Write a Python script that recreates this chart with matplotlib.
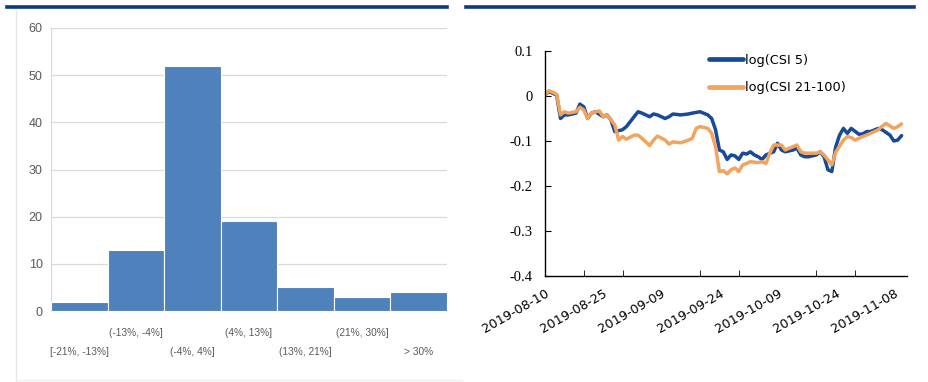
import matplotlib
matplotlib.use("Agg")
import matplotlib.pyplot as plt
from matplotlib.lines import Line2D
import numpy as np
import datetime as dt

# ---------------- data ----------------
hist_labels = ["[-21%, -13%]", "(-13%, -4%]", "(-4%, 4%]", "(4%, 13%]",
               "(13%, 21%]", "(21%, 30%]", "> 30%"]
hist_counts = [2, 13, 52, 19, 5, 3, 4]

csi5_dates = ["2019-08-10", "2019-08-11", "2019-08-13", "2019-08-14", "2019-08-15",
              "2019-08-16", "2019-08-18", "2019-08-19", "2019-08-20", "2019-08-21",
              "2019-08-22", "2019-08-23", "2019-08-25", "2019-08-26", "2019-08-27",
              "2019-08-28", "2019-08-30", "2019-08-31", "2019-09-02", "2019-09-03",
              "2019-09-04", "2019-09-06", "2019-09-07", "2019-09-08", "2019-09-10",
              "2019-09-11", "2019-09-12", "2019-09-14", "2019-09-16", "2019-09-17",
              "2019-09-19", "2019-09-21", "2019-09-22", "2019-09-23", "2019-09-24",
              "2019-09-25", "2019-09-26", "2019-09-27", "2019-09-28", "2019-09-29",
              "2019-09-30", "2019-10-01", "2019-10-02", "2019-10-03", "2019-10-04",
              "2019-10-05", "2019-10-06", "2019-10-08", "2019-10-09", "2019-10-10",
              "2019-10-11", "2019-10-13", "2019-10-14", "2019-10-15", "2019-10-16",
              "2019-10-17", "2019-10-19", "2019-10-20", "2019-10-21", "2019-10-22",
              "2019-10-23", "2019-10-24", "2019-10-25", "2019-10-26", "2019-10-27",
              "2019-10-28", "2019-10-30", "2019-10-31", "2019-11-01", "2019-11-02",
              "2019-11-04", "2019-11-05", "2019-11-07", "2019-11-08", "2019-11-09",
              "2019-11-10"]
csi5_values = [0.002, 0.010, 0.002, -0.050, -0.042,
               -0.042, -0.038, -0.018, -0.024, -0.050,
               -0.038, -0.035, -0.046, -0.042, -0.053,
               -0.079, -0.075, -0.068, -0.046, -0.035,
               -0.038, -0.046, -0.040, -0.042, -0.050,
               -0.046, -0.040, -0.042, -0.040, -0.038,
               -0.035, -0.042, -0.050, -0.075, -0.120,
               -0.124, -0.141, -0.131, -0.133, -0.141,
               -0.127, -0.129, -0.124, -0.131, -0.135,
               -0.141, -0.131, -0.124, -0.105, -0.120,
               -0.124, -0.120, -0.116, -0.131, -0.135,
               -0.135, -0.131, -0.124, -0.135, -0.164,
               -0.168, -0.113, -0.087, -0.072, -0.083,
               -0.072, -0.085, -0.084, -0.079, -0.079,
               -0.072, -0.075, -0.087, -0.100, -0.098,
               -0.088]

csi21_dates = ["2019-08-10", "2019-08-11", "2019-08-13", "2019-08-14", "2019-08-15",
               "2019-08-16", "2019-08-18", "2019-08-19", "2019-08-20", "2019-08-21",
               "2019-08-22", "2019-08-24", "2019-08-25", "2019-08-26", "2019-08-28",
               "2019-08-29", "2019-08-30", "2019-08-31", "2019-09-02", "2019-09-03",
               "2019-09-04", "2019-09-06", "2019-09-07", "2019-09-08", "2019-09-10",
               "2019-09-11", "2019-09-12", "2019-09-14", "2019-09-16", "2019-09-17",
               "2019-09-18", "2019-09-19", "2019-09-21", "2019-09-22", "2019-09-23",
               "2019-09-24", "2019-09-25", "2019-09-26", "2019-09-27", "2019-09-28",
               "2019-09-29", "2019-09-30", "2019-10-01", "2019-10-02", "2019-10-04",
               "2019-10-05", "2019-10-06", "2019-10-07", "2019-10-08", "2019-10-10",
               "2019-10-11", "2019-10-12", "2019-10-14", "2019-10-15", "2019-10-16",
               "2019-10-17", "2019-10-19", "2019-10-20", "2019-10-21", "2019-10-23",
               "2019-10-24", "2019-10-26", "2019-10-27", "2019-10-28", "2019-10-29",
               "2019-10-31", "2019-11-01", "2019-11-02", "2019-11-04", "2019-11-05",
               "2019-11-06", "2019-11-08", "2019-11-09", "2019-11-10"]
csi21_values = [0.002, 0.012, 0.004, -0.042, -0.035,
                -0.038, -0.035, -0.025, -0.031, -0.050,
                -0.038, -0.033, -0.046, -0.042, -0.064,
                -0.098, -0.090, -0.096, -0.087, -0.087,
                -0.094, -0.110, -0.098, -0.089, -0.098,
                -0.107, -0.102, -0.104, -0.098, -0.094,
                -0.072, -0.068, -0.072, -0.083, -0.113,
                -0.168, -0.166, -0.173, -0.164, -0.160,
                -0.168, -0.153, -0.150, -0.146, -0.148,
                -0.146, -0.150, -0.127, -0.109, -0.109,
                -0.120, -0.116, -0.109, -0.124, -0.127,
                -0.127, -0.127, -0.124, -0.131, -0.153,
                -0.125, -0.098, -0.090, -0.092, -0.098,
                -0.090, -0.087, -0.083, -0.075, -0.067,
                -0.061, -0.072, -0.068, -0.062]

xtick_label_dates = ["2019-08-10", "2019-08-25", "2019-09-09", "2019-09-24",
                     "2019-10-09", "2019-10-24", "2019-11-08"]

# ---------------- figure ----------------
W, H = 929, 382
fig = plt.figure(figsize=(W / 100, H / 100), dpi=100)
fig.patch.set_facecolor("white")

def px_axes(x0, y0, x1, y1):
    return fig.add_axes([x0 / W, 1 - y1 / H, (x1 - x0) / W, (y1 - y0) / H])

# decorative lines
navy = "#0d3a7c"
fig.add_artist(Line2D([7 / W, 447 / W], [1 - 7 / H, 1 - 7 / H], color=navy, lw=2.6))
fig.add_artist(Line2D([466 / W, 914 / W], [1 - 7 / H, 1 - 7 / H], color=navy, lw=2.6))
fig.add_artist(Line2D([16 / W, 16 / W], [1 - 10 / H, 1 - 380 / H], color="#e6e6e6", lw=1.0))
fig.add_artist(Line2D([16 / W, 462 / W], [1 - 380 / H, 1 - 380 / H], color="#eeeeee", lw=1.0))

# ---------------- left: histogram ----------------
axL = px_axes(51, 28, 447, 311)
x = np.arange(len(hist_counts))
axL.bar(x, hist_counts, width=1.0, color="#4f81bd", edgecolor="white", linewidth=0.8, zorder=3)
axL.set_xlim(-0.5, len(hist_counts) - 0.5)
axL.set_ylim(0, 60)
axL.set_yticks(range(0, 61, 10))
axL.grid(axis="y", color="#d9d9d9", linewidth=0.9, zorder=0)
for s in ["top", "right", "bottom"]:
    axL.spines[s].set_visible(False)
axL.spines["left"].set_color("#d9d9d9")
axL.tick_params(axis="y", length=0, pad=6, labelsize=9, labelcolor="#595959")
axL.set_xticks([])
for lab in axL.get_yticklabels():
    lab.set_fontfamily("Liberation Sans")
for i, lab in enumerate(hist_labels):
    off = -22 if i % 2 == 1 else -41
    axL.annotate(lab, xy=(i, 0), xycoords=("data", "axes fraction"),
                 xytext=(0, off), textcoords="offset pixels",
                 ha="center", va="center", fontsize=7.3, color="#595959",
                 family="Liberation Sans")

# ---------------- right: line chart ----------------
axR = px_axes(545, 51, 907, 276)
d5 = [dt.datetime.strptime(s, "%Y-%m-%d") for s in csi5_dates]
d21 = [dt.datetime.strptime(s, "%Y-%m-%d") for s in csi21_dates]
axR.plot(d5, csi5_values, color="#174a97", lw=2.5, label="log(CSI 5)", solid_capstyle="round")
axR.plot(d21, csi21_values, color="#f2a35e", lw=2.5, label="log(CSI 21-100)", solid_capstyle="round")

start = dt.datetime(2019, 8, 10)
axR.set_xlim(start, start + dt.timedelta(days=93.4))
axR.set_ylim(-0.4, 0.1)
axR.set_yticks([0.1, 0, -0.1, -0.2, -0.3, -0.4])
axR.set_yticklabels(["0.1", "0", "-0.1", "-0.2", "-0.3", "-0.4"])
for s in ["top", "right"]:
    axR.spines[s].set_visible(False)
axR.spines["left"].set_linewidth(1.0)
axR.spines["bottom"].set_linewidth(1.0)
axR.tick_params(axis="y", direction="in", length=4, pad=9, labelsize=10.5)
for lab in axR.get_yticklabels():
    lab.set_fontfamily("Liberation Serif")

label_dates = [dt.datetime.strptime(s, "%Y-%m-%d") for s in xtick_label_dates]
axR.set_xticks(label_dates)
axR.set_xticklabels(xtick_label_dates)
axR.tick_params(axis="x", which="major", length=0, pad=8, labelsize=9.3)
for lab in axR.get_xticklabels():
    lab.set_rotation(30)
    lab.set_ha("right")
    lab.set_rotation_mode("anchor")
minor_ticks = [start + dt.timedelta(days=10 * k) for k in range(1, 10)]
axR.set_xticks(minor_ticks, minor=True)
axR.tick_params(axis="x", which="minor", direction="in", length=4)

leg = axR.legend(loc="upper left", bbox_to_anchor=(0.44, 1.01), frameon=False,
                 fontsize=9.3, handlelength=2.6, handletextpad=0.15, labelspacing=1.1,
                 borderaxespad=0)
for h in leg.get_lines():
    h.set_linewidth(3.4)

fig.savefig("out.png", dpi=100, facecolor="white")
